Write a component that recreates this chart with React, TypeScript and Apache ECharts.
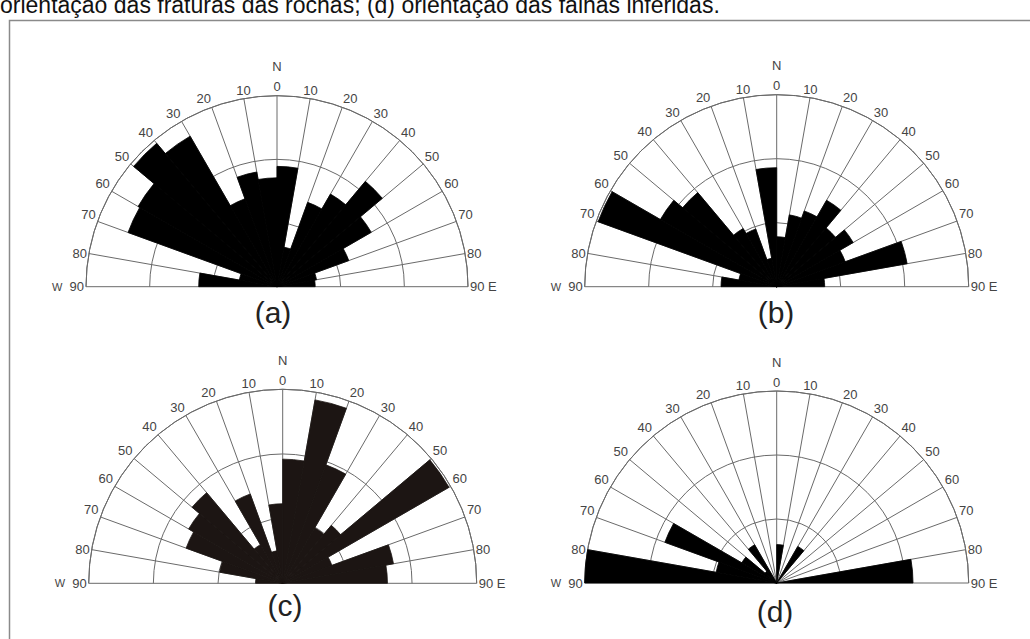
import React, { useEffect, useRef } from 'react';
import * as echarts from 'echarts';

// 10-degree strike sectors, from W (N90W) through N to E (N90E)
const sectors = [
  '90W-80W', '80W-70W', '70W-60W', '60W-50W', '50W-40W', '40W-30W', '30W-20W', '20W-10W', '10W-0',
  '0-10E', '10E-20E', '20E-30E', '30E-40E', '40E-50E', '50E-60E', '60E-70E', '70E-80E', '80E-90E',
];

// angular tick values and their labels
const tickValues = [-90, -80, -70, -60, -50, -40, -30, -20, -10, 0, 10, 20, 30, 40, 50, 60, 70, 80, 90];
const tickLabels = [
  '{s|W}  90', '80', '70', '60', '50', '40', '30', '20', '10', '{n|N}\n{z|0}',
  '10', '20', '30', '40', '50', '60', '70', '80', '90 E',
];

// relative frequency per sector (radial scale 0-30)
const freqA = [12.3, 6.0, 24.9, 25.2, 29.4, 27.3, 14.7, 18.3, 17.1, 18.9, 6.3, 14.1, 16.8, 21.6, 17.1, 12.0, 6.3, 6.0];
const freqB = [8.7, 6.0, 29.7, 21.0, 19.2, 10.5, 9.6, 4.5, 18.6, 7.8, 11.4, 12.6, 15.6, 12.0, 13.8, 11.4, 20.7, 7.5];
const freqC = [4.2, 9.9, 15.9, 16.8, 18.3, 6.9, 14.7, 5.1, 12.3, 19.2, 28.8, 19.5, 9.9, 11.7, 29.7, 8.1, 17.4, 16.2];
const freqD = [30, 9.6, 18.6, 6.3, 2.4, 6.9, 0, 0, 0, 6.0, 0, 0, 6.6, 0, 0, 0, 0, 21.3];

const panelNames = ['(a)', '(b)', '(c)', '(d)'];
const panelData = [freqA, freqB, freqC, freqD];

const caption = 'orientação das fraturas das rochas; (d) orientação das falhas inferidas.';

// layout (pixels)
const layout = [
  { cx: 277, cy: 286.7, r: 191, color: '#000000', lx: 273, ly: 312 },
  { cx: 776.7, cy: 286.7, r: 192, color: '#000000', lx: 776, ly: 312 },
  { cx: 282.7, cy: 583.3, r: 194, color: '#1c1513', lx: 285, ly: 605 },
  { cx: 776.7, cy: 583, r: 192, color: '#000000', lx: 775, ly: 611 },
];

const FONT = '"Liberation Sans", Arial, Helvetica, sans-serif';
const LINE = '#6a6a6a';

export default function App() {
  const ref = useRef<HTMLDivElement>(null);
  useEffect(() => {
    if (!ref.current) return;
    const chart = echarts.init(ref.current, undefined, { renderer: 'svg' });
    const polar: any[] = [];
    const angleAxis: any[] = [];
    const radiusAxis: any[] = [];
    const series: any[] = [];
    const graphic: any[] = [];

    layout.forEach((L, i) => {
      // polar for bars
      polar.push({ center: [L.cx, L.cy], radius: L.r });
      // polar for grid + labels
      polar.push({ center: [L.cx, L.cy], radius: L.r });
      angleAxis.push({
        polarIndex: 2 * i,
        type: 'category',
        data: sectors,
        startAngle: 180,
        endAngle: 0,
        clockwise: true,
        boundaryGap: true,
        axisLine: { show: false },
        axisTick: { show: false },
        axisLabel: { show: false },
        splitLine: { show: false },
      });
      angleAxis.push({
        polarIndex: 2 * i + 1,
        type: 'value',
        min: -90,
        max: 90,
        interval: 10,
        startAngle: 180,
        endAngle: 0,
        clockwise: true,
        axisLine: { show: true, lineStyle: { color: LINE, width: 1 } },
        axisTick: { show: false },
        splitLine: { show: true, lineStyle: { color: LINE, width: 1 } },
        axisLabel: {
          show: true,
          margin: 2,
          color: '#444',
          fontSize: 13,
          fontFamily: FONT,
          formatter: (v: number) => {
            const k = tickValues.indexOf(Math.round(v));
            return k >= 0 ? tickLabels[k] : '';
          },
          rich: {
            s: { fontSize: 11, color: '#444', fontFamily: FONT },
            n: { fontSize: 13, lineHeight: 26, color: '#444', fontFamily: FONT },
            z: { fontSize: 13, lineHeight: 14, color: '#444', fontFamily: FONT },
          },
        },
      });
      radiusAxis.push({
        polarIndex: 2 * i,
        type: 'value',
        min: 0,
        max: 30,
        axisLine: { show: false },
        axisTick: { show: false },
        axisLabel: { show: false },
        splitLine: { show: false },
      });
      radiusAxis.push({
        polarIndex: 2 * i + 1,
        type: 'value',
        min: 0,
        max: 30,
        interval: 10,
        axisLine: { show: false },
        axisTick: { show: false },
        axisLabel: { show: false },
        splitLine: { show: true, lineStyle: { color: LINE, width: 1 } },
      });
      series.push({
        type: 'bar',
        coordinateSystem: 'polar',
        polarIndex: 2 * i,
        data: panelData[i],
        barCategoryGap: '0%',
        itemStyle: { color: L.color, borderColor: L.color, borderWidth: 0.8 },
        z: 5,
      });
      graphic.push({
        type: 'text',
        x: L.lx,
        y: L.ly,
        style: {
          text: panelNames[i],
          font: `30px ${FONT}`,
          fill: '#222',
          align: 'center',
          verticalAlign: 'middle',
        },
      });
    });

    graphic.push({
      type: 'rect',
      shape: { x: 9.5, y: 20.5, width: 1040, height: 640 },
      style: { fill: 'none', stroke: '#8a8a8a', lineWidth: 1.5 },
      z: 1,
    });
    graphic.push({
      type: 'text',
      x: 0,
      y: 16,
      style: {
        text: caption,
        font: `23px ${FONT}`,
        fill: '#111',
        align: 'left',
        verticalAlign: 'bottom',
      },
    });

    chart.setOption({
      animation: false,
      backgroundColor: '#ffffff',
      polar,
      angleAxis,
      radiusAxis,
      series,
      graphic,
    });
    return () => chart.dispose();
  }, []);
  return (
    <div
      ref={ref}
      style={{ position: 'fixed', left: 0, top: 0, width: 1030, height: 639 }}
    />
  );
}
